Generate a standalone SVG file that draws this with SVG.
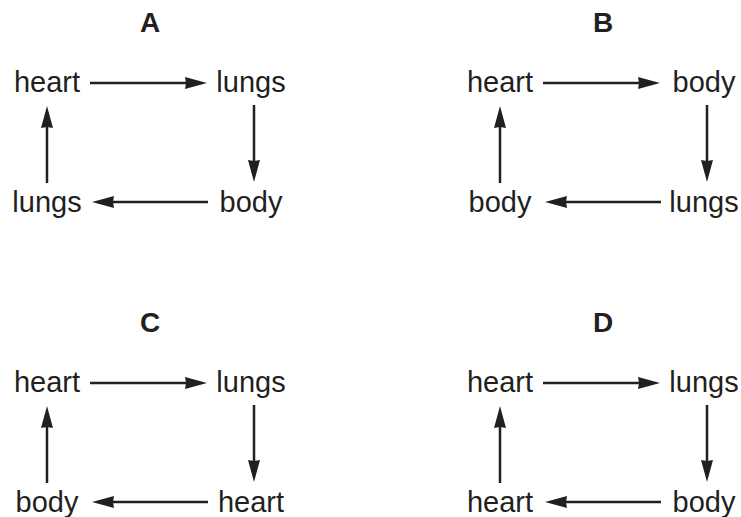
<svg xmlns="http://www.w3.org/2000/svg" width="741" height="517" viewBox="0 0 741 517">
<defs>
<style>
text{font-family:"Liberation Sans",Arial,sans-serif;fill:#231f20}
.n{font-size:29px;text-anchor:middle}
.t{font-size:28px;font-weight:bold;text-anchor:middle}
.c line{stroke:#231f20;stroke-width:2.5}
</style>
<marker id="ah" markerUnits="userSpaceOnUse" markerWidth="24" markerHeight="13" refX="3" refY="6" orient="auto">
<path d="M0,0 L22,6 L0,12 L1,6 z" fill="#231f20"/>
</marker>
<g id="cyc">
<g class="c">
<line x1="90" y1="83" x2="188" y2="83" marker-end="url(#ah)"/>
<line x1="254" y1="105" x2="254" y2="163" marker-end="url(#ah)"/>
<line x1="208" y1="202" x2="111" y2="202" marker-end="url(#ah)"/>
<line x1="47" y1="183" x2="47" y2="125" marker-end="url(#ah)"/>
</g>
</g>
</defs>
<g id="connectors">
<use href="#cyc"/>
<use href="#cyc" x="453"/>
<use href="#cyc" y="300"/>
<use href="#cyc" x="453" y="300"/>
</g>
<g id="A">
<text class="t" x="150" y="32">A</text>
<text class="n" x="47" y="92">heart</text>
<text class="n" x="251" y="92">lungs</text>
<text class="n" x="251" y="212">body</text>
<text class="n" x="47" y="212">lungs</text>
</g>
<g id="B">
<text class="t" x="603" y="32">B</text>
<text class="n" x="500" y="92">heart</text>
<text class="n" x="704" y="92">body</text>
<text class="n" x="704" y="212">lungs</text>
<text class="n" x="500" y="212">body</text>
</g>
<g id="C">
<text class="t" x="150" y="332">C</text>
<text class="n" x="47" y="392">heart</text>
<text class="n" x="251" y="392">lungs</text>
<text class="n" x="251" y="512">heart</text>
<text class="n" x="47" y="512">body</text>
</g>
<g id="D">
<text class="t" x="603" y="332">D</text>
<text class="n" x="500" y="392">heart</text>
<text class="n" x="704" y="392">lungs</text>
<text class="n" x="704" y="512">body</text>
<text class="n" x="500" y="512">heart</text>
</g>
</svg>
